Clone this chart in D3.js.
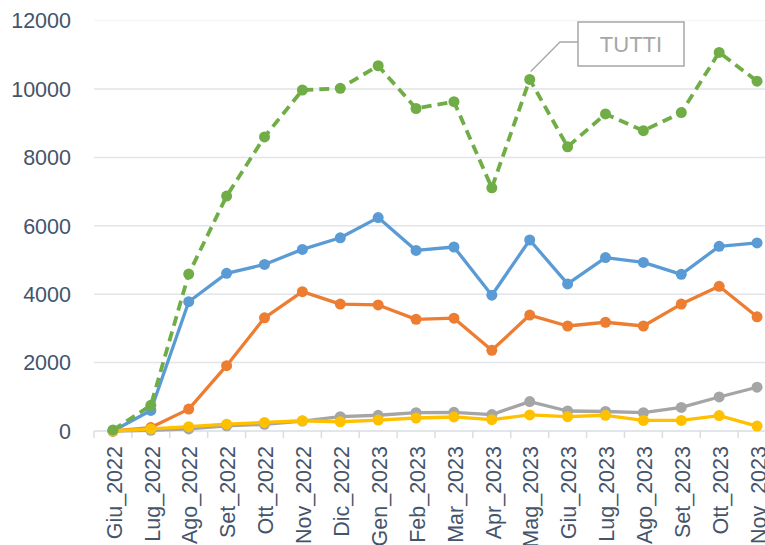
<!DOCTYPE html>
<html>
<head>
<meta charset="utf-8">
<script src="https://cdn.jsdelivr.net/npm/d3@7"></script>
<style>
  body { margin: 0; background: #fff; }
  #chart svg { display: block; }
</style>
</head>
<body>
<div id="chart"></div>
<script>
// categories (months)
var months = ['Giu_2022','Lug_2022','Ago_2022','Set_2022','Ott_2022','Nov_2022','Dic_2022','Gen_2023',
  'Feb_2023','Mar_2023','Apr_2023','Mag_2023','Giu_2023','Lug_2023','Ago_2023','Set_2023','Ott_2023','Nov_2023'];

// series values
var blueVals   = [0, 600, 3780, 4610, 4870, 5310, 5650, 6240, 5280, 5380, 3970, 5585, 4300, 5070, 4930, 4580, 5400, 5500];
var orangeVals = [0, 100, 640, 1910, 3310, 4075, 3710, 3685, 3265, 3300, 2360, 3390, 3070, 3180, 3070, 3710, 4230, 3340];
var grayVals   = [0, 20, 60, 150, 195, 290, 420, 460, 535, 545, 480, 860, 585, 570, 535, 690, 995, 1280];
var yellowVals = [0, 60, 125, 200, 250, 300, 270, 320, 380, 410, 330, 470, 420, 460, 310, 310, 450, 145];
var tuttiVals  = [30, 750, 4590, 6870, 8600, 9970, 10020, 10680, 9430, 9630, 7110, 10280, 8310, 9270, 8780, 9310, 11070, 10230];

var yTicks = [0, 2000, 4000, 6000, 8000, 10000, 12000];

var series = [
  { name: 'blue', vals: blueVals, color: '#5B9BD5', dash: null },
  { name: 'orange', vals: orangeVals, color: '#ED7D31', dash: null },
  { name: 'gray', vals: grayVals, color: '#A5A5A5', dash: null },
  { name: 'yellow', vals: yellowVals, color: '#FFC000', dash: null },
  { name: 'TUTTI', vals: tuttiVals, color: '#70AD47', dash: '10,6' }
];

var W = 765, H = 545;
var plotLeft = 94, plotRight = 776, plotTop = 20.6, plotBottom = 431;

var svg = d3.select('#chart').append('svg')
  .attr('width', W)
  .attr('height', H);

var x = d3.scaleBand().domain(months).range([plotLeft, plotRight]).padding(0);
var y = d3.scaleLinear().domain([0, 12000]).range([plotBottom, plotTop]);
var cx = function (m) { return x(m) + x.bandwidth() / 2; };

var textColor = '#44546A';
var font = '"Liberation Sans", Arial, sans-serif';

// gridlines
svg.append('g').selectAll('line').data(yTicks.filter(function (d) { return d > 0; }))
  .enter().append('line')
  .attr('x1', plotLeft).attr('x2', plotRight)
  .attr('y1', function (d) { return y(d); })
  .attr('y2', function (d) { return y(d); })
  .attr('stroke', function (d) { return d === 12000 ? '#f5f6f8' : '#e1e4e9'; })
  .attr('stroke-width', 1.5);

// y labels
svg.append('g').selectAll('text').data(yTicks)
  .enter().append('text')
  .attr('x', 71)
  .attr('y', function (d) { return y(d); })
  .attr('dy', '0.36em')
  .attr('text-anchor', 'end')
  .attr('font-family', font)
  .attr('font-size', 21.5)
  .attr('fill', textColor)
  .text(function (d) { return d; });

// x axis
var xAxis = svg.append('g')
  .attr('transform', 'translate(0,' + plotBottom + ')');
xAxis.append('line')
  .attr('x1', plotLeft).attr('x2', plotRight)
  .attr('stroke', '#d9dde3').attr('stroke-width', 1.5);
xAxis.selectAll('line.tick').data(d3.range(months.length + 1))
  .enter().append('line')
  .attr('class', 'tick')
  .attr('x1', function (i) { return plotLeft + i * x.step(); })
  .attr('x2', function (i) { return plotLeft + i * x.step(); })
  .attr('y1', 0).attr('y2', 7)
  .attr('stroke', '#d9dde3').attr('stroke-width', 1.5);
xAxis.selectAll('text').data(months)
  .enter().append('text')
  .attr('transform', function (m) { return 'translate(' + (cx(m) + 1) + ',15) rotate(-90)'; })
  .attr('dy', '0.36em')
  .attr('text-anchor', 'end')
  .attr('font-family', font)
  .attr('font-size', 21.5)
  .attr('fill', textColor)
  .text(function (m) { return m; });

// lines and markers
var line = d3.line()
  .x(function (d, i) { return cx(months[i]); })
  .y(function (d) { return y(d); });

series.forEach(function (s) {
  var g = svg.append('g');
  g.append('path')
    .datum(s.vals)
    .attr('d', line)
    .attr('fill', 'none')
    .attr('stroke', s.color)
    .attr('stroke-width', s.dash ? 3.8 : 3.3)
    .attr('stroke-dasharray', s.dash)
    .attr('stroke-linejoin', 'round');
  g.selectAll('circle').data(s.vals)
    .enter().append('circle')
    .attr('cx', function (d, i) { return cx(months[i]); })
    .attr('cy', function (d) { return y(d); })
    .attr('r', 5.5)
    .attr('fill', s.color);
});

// callout for TUTTI
var ci = months.indexOf('Mag_2023');
var callout = svg.append('g');
callout.append('polyline')
  .attr('points', [[cx(months[ci]) + 1, y(tuttiVals[ci]) - 8], [560, 42], [578, 42]].join(' '))
  .attr('fill', 'none')
  .attr('stroke', '#A6A6A6')
  .attr('stroke-width', 1.3);
callout.append('rect')
  .attr('x', 578).attr('y', 22)
  .attr('width', 106).attr('height', 44)
  .attr('fill', '#fff')
  .attr('stroke', '#A6A6A6')
  .attr('stroke-width', 1.5);
callout.append('text')
  .attr('x', 631).attr('y', 44)
  .attr('dy', '0.36em')
  .attr('text-anchor', 'middle')
  .attr('font-family', font)
  .attr('font-size', 22)
  .attr('fill', '#A6A6A6')
  .text('TUTTI');
</script>
</body>
</html>
